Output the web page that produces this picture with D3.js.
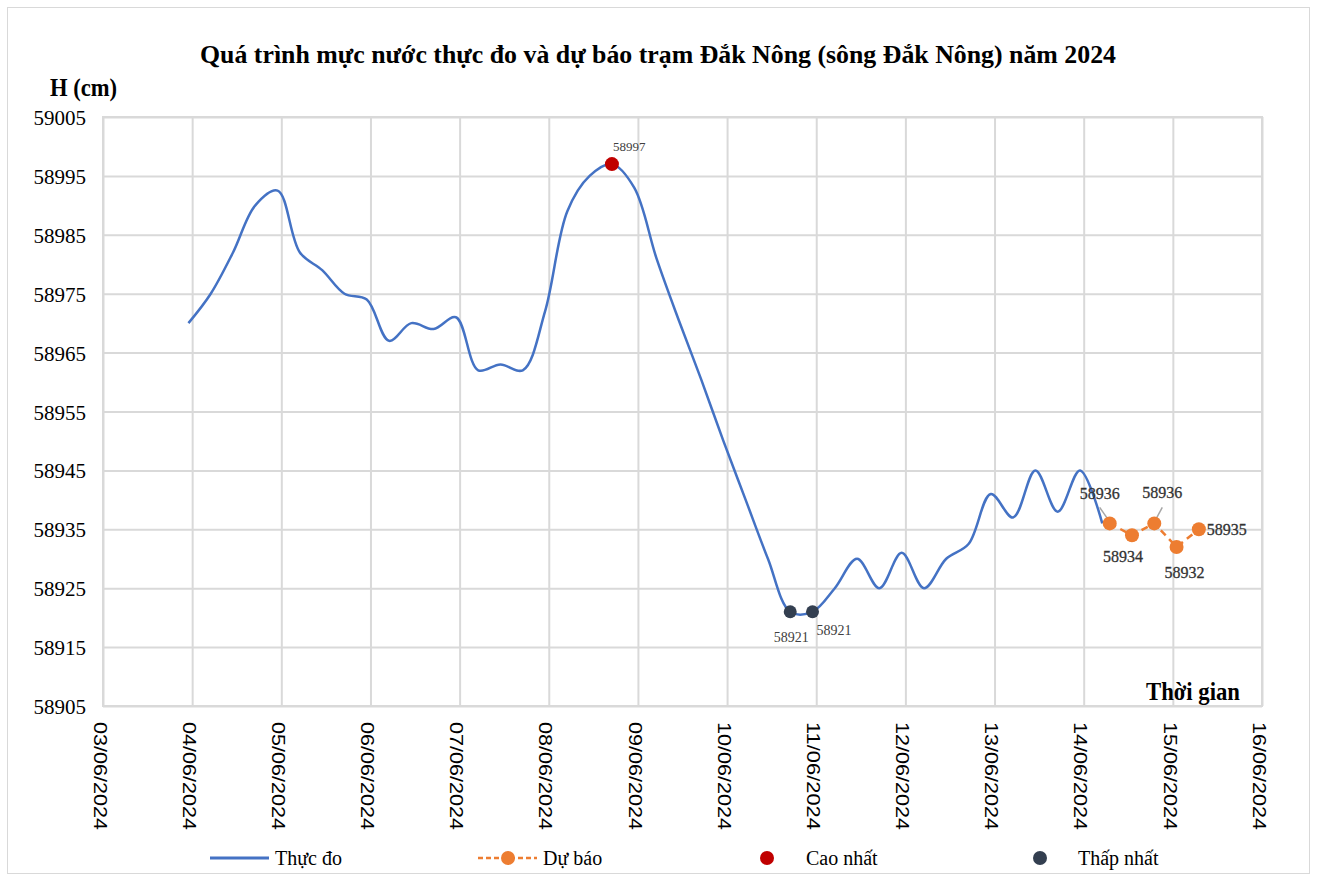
<!DOCTYPE html>
<html>
<head>
<meta charset="utf-8">
<script src="https://cdn.jsdelivr.net/npm/d3@7"></script>
<style>
  body { margin: 0; background: #fff; }
  text { font-family: "Liberation Serif", "Times New Roman", serif; }
</style>
</head>
<body>
<div id="chart"></div>
<script>
// Observed water level (thực đo), every 6 hours
const obsTimes = [
    "2024-06-03T23:00", "2024-06-04T05:00", "2024-06-04T11:00", "2024-06-04T17:00", "2024-06-04T23:00",
    "2024-06-05T05:00", "2024-06-05T11:00", "2024-06-05T17:00", "2024-06-05T23:00",
    "2024-06-06T05:00", "2024-06-06T11:00", "2024-06-06T17:00", "2024-06-06T23:00",
    "2024-06-07T05:00", "2024-06-07T11:00", "2024-06-07T17:00", "2024-06-07T23:00",
    "2024-06-08T05:00", "2024-06-08T11:00", "2024-06-08T17:00", "2024-06-08T23:00",
    "2024-06-09T05:00", "2024-06-09T11:00", "2024-06-09T17:00", "2024-06-09T23:00",
    "2024-06-10T05:00", "2024-06-10T11:00", "2024-06-10T17:00", "2024-06-10T23:00",
    "2024-06-11T05:00", "2024-06-11T11:00", "2024-06-11T17:00", "2024-06-11T23:00",
    "2024-06-12T05:00", "2024-06-12T11:00", "2024-06-12T17:00", "2024-06-12T23:00",
    "2024-06-13T05:00", "2024-06-13T11:00", "2024-06-13T17:00", "2024-06-13T23:00",
    "2024-06-14T05:00"
];
const obsValues = [
    58970, 58975, 58982, 58990, 58992.5,
    58982, 58979, 58975, 58974,
    58967, 58970, 58969, 58971,
    58962, 58963, 58962, 58972,
    58989, 58995, 58997, 58993,
    58981, 58970.5, 58960.5, 58950,
    58940, 58930, 58921, 58921,
    58925, 58930, 58925, 58931,
    58925, 58930, 58932.5, 58941,
    58937, 58945, 58938, 58945,
    58936
];

// Forecast (dự báo)
const fcTimes = ["2024-06-14T07:00", "2024-06-14T13:00", "2024-06-14T19:00", "2024-06-15T01:00", "2024-06-15T07:00"];
const fcValues = [58936, 58934, 58936, 58932, 58935];
const fcLabelOffsets = [[-10, -24, "middle"], [-9, 27, "middle"], [8, -25, "middle"], [8, 31, "middle"], [8, 6, "start"]];
const fcLeaders = [true, false, true, false, false];

// Highest / lowest observed
const maxTimes = ["2024-06-08T17:00"];
const maxValues = [58997];
const minTimes = ["2024-06-10T17:00", "2024-06-10T23:00"];
const minValues = [58921, 58921];

const yTicks = [58905, 58915, 58925, 58935, 58945, 58955, 58965, 58975, 58985, 58995, 59005];
const xStart = "2024-06-03", xEnd = "2024-06-16";

const legendLabels = ["Thực đo", "Dự báo", "Cao nhất", "Thấp nhất"];
const title = "Quá trình mực nước thực đo và dự báo trạm Đắk Nông (sông Đắk Nông) năm 2024";

const W = 1318, H = 879;
const plot = { left: 103, right: 1262, top: 117, bottom: 706 };

const blue = "#4472C4", orange = "#ED7D31", red = "#C00000", navy = "#333F50", grid = "#d9d9d9";

const parse = d3.timeParse("%Y-%m-%dT%H:%M");
const parseDay = d3.timeParse("%Y-%m-%d");

const obs = obsTimes.map((t, i) => ({ t: parse(t), v: obsValues[i] }));
const fc = fcTimes.map((t, i) => ({ t: parse(t), v: fcValues[i] }));
const maxPts = maxTimes.map((t, i) => ({ t: parse(t), v: maxValues[i] }));
const minPts = minTimes.map((t, i) => ({ t: parse(t), v: minValues[i] }));

const svg = d3.select("#chart").append("svg")
    .attr("width", W)
    .attr("height", H);

svg.append("rect").attr("width", W).attr("height", H).attr("fill", "#fff");
svg.append("rect")
    .attr("x", 7.5).attr("y", 7.5)
    .attr("width", 1302).attr("height", 866)
    .attr("fill", "none").attr("stroke", "#d9d9d9").attr("stroke-width", 1);

const x = d3.scaleTime()
    .domain([parseDay(xStart), parseDay(xEnd)])
    .range([plot.left, plot.right]);

const y = d3.scaleLinear()
    .domain([yTicks[0], yTicks[yTicks.length - 1]])
    .range([plot.bottom, plot.top]);

// grid lines
svg.append("g")
    .attr("transform", `translate(0,${plot.bottom})`)
    .call(d3.axisBottom(x).ticks(d3.timeDay.every(1)).tickSize(-(plot.bottom - plot.top)).tickFormat(""))
    .call(g => g.select(".domain").remove())
    .call(g => g.selectAll(".tick line").attr("stroke", grid).attr("stroke-width", 2));

svg.append("g")
    .attr("transform", `translate(${plot.left},0)`)
    .call(d3.axisLeft(y).tickValues(yTicks).tickSize(-(plot.right - plot.left)).tickFormat(""))
    .call(g => g.select(".domain").remove())
    .call(g => g.selectAll(".tick line").attr("stroke", grid).attr("stroke-width", 2));

svg.append("rect")
    .attr("x", plot.left).attr("y", plot.top)
    .attr("width", plot.right - plot.left).attr("height", plot.bottom - plot.top)
    .attr("fill", "none").attr("stroke", grid).attr("stroke-width", 2);

// y tick labels
svg.append("g").selectAll("text")
    .data(yTicks)
    .enter().append("text")
    .attr("x", 86)
    .attr("y", d => y(d) + 8)
    .attr("text-anchor", "end")
    .style("font-size", "21px")
    .attr("fill", "#000")
    .text(d => d);

// x tick labels (rotated)
const fmt = d3.timeFormat("%d/%m/%Y");
svg.append("g").selectAll("text")
    .data(x.ticks(d3.timeDay.every(1)))
    .enter().append("text")
    .attr("transform", d => `translate(${x(d) - 3},722) rotate(90)`)
    .attr("text-anchor", "start")
    .attr("dy", "0.35em")
    .attr("textLength", 108)
    .attr("lengthAdjust", "spacingAndGlyphs")
    .style("font-family", "'Liberation Sans', Arial, sans-serif")
    .style("font-size", "18px")
    .attr("fill", "#000")
    .text(d => fmt(d));

// title and axis names
svg.append("text")
    .attr("x", 658).attr("y", 63)
    .attr("text-anchor", "middle")
    .attr("textLength", 916)
    .attr("lengthAdjust", "spacingAndGlyphs")
    .style("font-size", "26px").style("font-weight", "bold")
    .text(title);

svg.append("text")
    .attr("x", 50).attr("y", 96)
    .attr("textLength", 67)
    .attr("lengthAdjust", "spacingAndGlyphs")
    .style("font-size", "25px").style("font-weight", "bold")
    .text("H (cm)");

svg.append("text")
    .attr("x", 1146).attr("y", 700)
    .attr("textLength", 94)
    .attr("lengthAdjust", "spacingAndGlyphs")
    .style("font-size", "25px").style("font-weight", "bold")
    .text("Thời gian");

// observed line, smoothed
const line = d3.line()
    .x(d => x(d.t))
    .y(d => y(d.v))
    .curve(d3.curveCatmullRom.alpha(0.5));

svg.append("path")
    .datum(obs)
    .attr("fill", "none")
    .attr("stroke", blue)
    .attr("stroke-width", 2.5)
    .attr("d", line);

// forecast line
const fcLine = d3.line().x(d => x(d.t)).y(d => y(d.v));

svg.append("path")
    .datum(fc)
    .attr("fill", "none")
    .attr("stroke", orange)
    .attr("stroke-width", 2.5)
    .attr("stroke-dasharray", "7,5")
    .attr("d", fcLine);

// leader lines for some forecast labels
svg.append("g").selectAll("line")
    .data(fc.filter((d, i) => fcLeaders[i]))
    .enter().append("line")
    .attr("x1", d => x(d.t) + (d === fc[0] ? -10 : 8))
    .attr("y1", d => y(d.v) - 16)
    .attr("x2", d => x(d.t) + (d === fc[0] ? -1 : 1))
    .attr("y2", d => y(d.v) - 3)
    .attr("stroke", "#a6a6a6")
    .attr("stroke-width", 1.5);

svg.append("g").selectAll("circle")
    .data(fc)
    .enter().append("circle")
    .attr("cx", d => x(d.t))
    .attr("cy", d => y(d.v))
    .attr("r", 7)
    .attr("fill", orange);

svg.append("g").selectAll("text")
    .data(fc)
    .enter().append("text")
    .attr("x", (d, i) => x(d.t) + fcLabelOffsets[i][0])
    .attr("y", (d, i) => y(d.v) + fcLabelOffsets[i][1])
    .attr("text-anchor", (d, i) => fcLabelOffsets[i][2])
    .style("font-size", "16px")
    .attr("fill", "#333")
    .attr("stroke", "#333")
    .attr("stroke-width", 0.3)
    .text(d => d.v);

// highest
svg.append("g").selectAll("circle")
    .data(maxPts)
    .enter().append("circle")
    .attr("cx", d => x(d.t))
    .attr("cy", d => y(d.v))
    .attr("r", 7)
    .attr("fill", red);

svg.append("g").selectAll("text")
    .data(maxPts)
    .enter().append("text")
    .attr("x", d => x(d.t) + 1)
    .attr("y", d => y(d.v) - 13)
    .style("font-size", "13px")
    .attr("fill", "#404040")
    .text(d => d.v);

// lowest
svg.append("g").selectAll("circle")
    .data(minPts)
    .enter().append("circle")
    .attr("cx", d => x(d.t))
    .attr("cy", d => y(d.v))
    .attr("r", 6.5)
    .attr("fill", navy);

svg.append("g").selectAll("text")
    .data(minPts)
    .enter().append("text")
    .attr("x", (d, i) => x(d.t) + (i === 0 ? 1 : 4))
    .attr("y", (d, i) => y(d.v) + (i === 0 ? 30 : 23))
    .attr("text-anchor", (d, i) => i === 0 ? "middle" : "start")
    .style("font-size", "14px")
    .attr("fill", "#404040")
    .text(d => d.v);

// legend
const ly = 858;
const legend = svg.append("g");

legend.append("line")
    .attr("x1", 210).attr("x2", 269).attr("y1", ly).attr("y2", ly)
    .attr("stroke", blue).attr("stroke-width", 3);

legend.append("line")
    .attr("x1", 478).attr("x2", 537).attr("y1", ly).attr("y2", ly)
    .attr("stroke", orange).attr("stroke-width", 2.5).attr("stroke-dasharray", "5,3");
legend.append("circle").attr("cx", 508).attr("cy", ly).attr("r", 7).attr("fill", orange);

legend.append("circle").attr("cx", 767).attr("cy", ly).attr("r", 7).attr("fill", red);
legend.append("circle").attr("cx", 1040).attr("cy", ly).attr("r", 7).attr("fill", navy);

legend.selectAll(".legend-text")
    .data(legendLabels)
    .enter().append("text")
    .attr("class", "legend-text")
    .attr("x", (d, i) => [275, 543, 806, 1078][i])
    .attr("y", ly + 7)
    .style("font-size", "20px")
    .attr("fill", "#000")
    .text(d => d);
</script>
</body>
</html>
